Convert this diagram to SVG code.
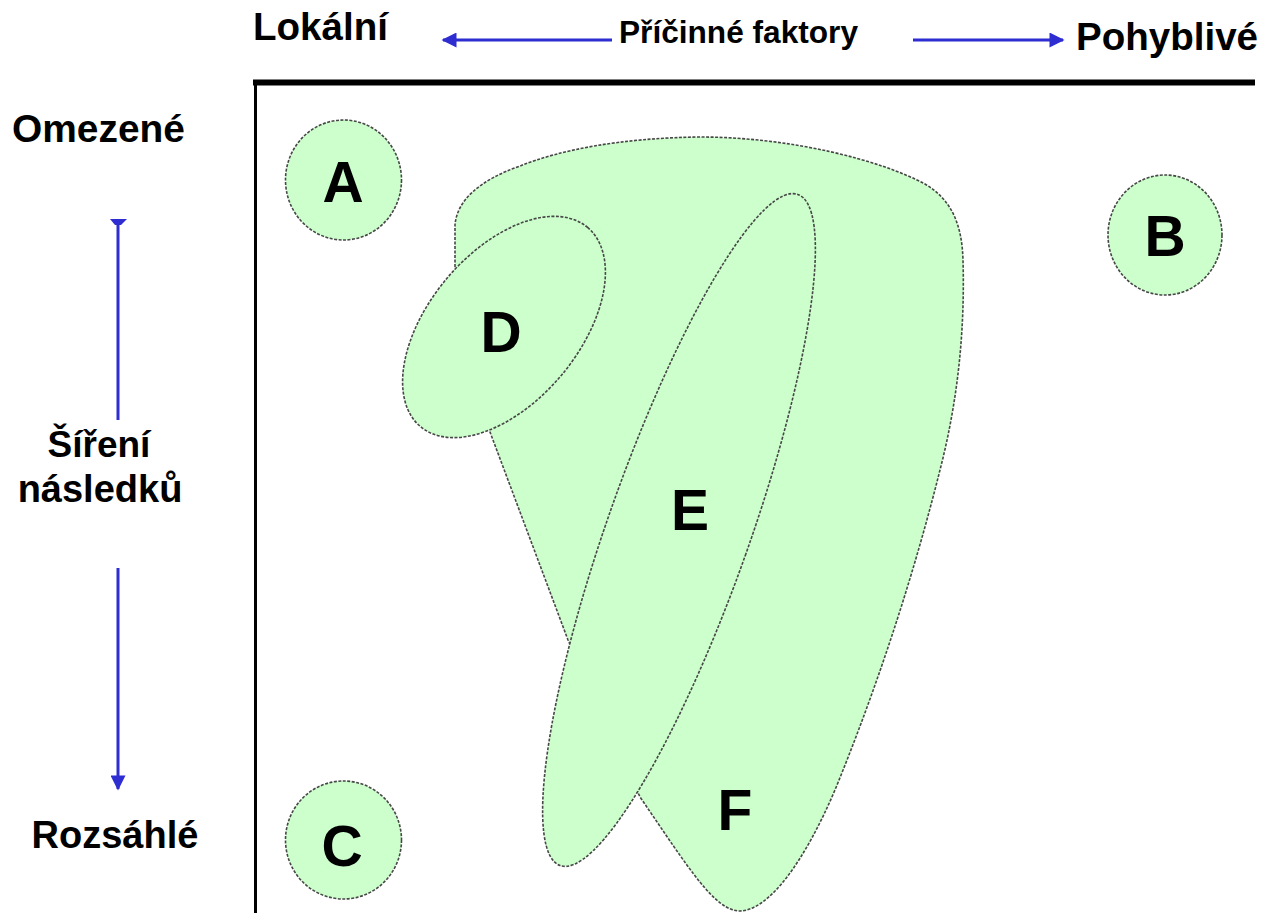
<svg xmlns="http://www.w3.org/2000/svg" width="1274" height="913" viewBox="0 0 1274 913">
  <defs>
    <style>
      .axis-label { font-family: "Liberation Sans", Arial, sans-serif; font-weight: bold; fill: #000; }
      .node-label { font-family: "Liberation Sans", Arial, sans-serif; font-weight: bold; font-size: 57px; fill: #000; text-anchor: middle; }
      .region { fill: #ccffcc; stroke: #474747; stroke-width: 1.6; stroke-dasharray: 3 1.5; }
      .frame { stroke: #000; fill: none; }
      .axis-arrow { stroke: #2d2dd2; stroke-width: 3; fill: none; }
    </style>
    <marker id="arrowhead" viewBox="0 0 10 10" refX="9" refY="5" markerWidth="8" markerHeight="5" markerUnits="strokeWidth" orient="auto">
      <path d="M0,0 L10,5 L0,10 Z" fill="#2d2dd2"/>
    </marker>
  </defs>

  <rect width="1274" height="913" fill="#ffffff"/>

  <!-- frame -->
  <g id="frame">
    <line class="frame" x1="253" y1="82.5" x2="1255" y2="82.5" stroke-width="6"/>
    <line class="frame" x1="255.5" y1="80" x2="255.5" y2="913" stroke-width="3"/>
  </g>

  <!-- axis titles -->
  <g id="axis-labels">
    <text class="axis-label" x="253" y="40" font-size="38" textLength="135" lengthAdjust="spacingAndGlyphs">Lokální</text>
    <text class="axis-label" x="619" y="43" font-size="32" textLength="239" lengthAdjust="spacingAndGlyphs">Příčinné faktory</text>
    <text class="axis-label" x="1076" y="50" font-size="38.5" textLength="182" lengthAdjust="spacingAndGlyphs">Pohyblivé</text>
    <text class="axis-label" x="12" y="142" font-size="38" textLength="173" lengthAdjust="spacingAndGlyphs">Omezené</text>
    <text class="axis-label" x="99" y="457" font-size="37" text-anchor="middle">Šíření</text>
    <text class="axis-label" x="100" y="502" font-size="38" text-anchor="middle">následků</text>
    <text class="axis-label" x="115" y="848" font-size="38" text-anchor="middle">Rozsáhlé</text>
  </g>

  <!-- connectors -->
  <g id="connectors">
    <line class="axis-arrow" x1="612" y1="40" x2="443" y2="40" marker-end="url(#arrowhead)"/>
    <line class="axis-arrow" x1="913" y1="40" x2="1063" y2="40" marker-end="url(#arrowhead)"/>
    <line class="axis-arrow" x1="118" y1="222" x2="118" y2="420"/>
    <polygon points="110,219 127,219 121,225 115,225" fill="#2d2dd2"/>
    <line class="axis-arrow" x1="118" y1="568" x2="118" y2="789" marker-end="url(#arrowhead)"/>
  </g>

  <!-- large region F (drawn first, underneath E and D) -->
  <g id="node-F">
    <path class="region" d="M455,267 L455,225 C457,200 480,180 520,166 C560,150 620,138 700,137 C790,137 880,160 925,184 C952,200 962,225 963,260 C965,330 958,400 940,470 C915,570 880,680 835,790 C805,860 770,910 740,911 C715,911 690,870 640,797 L568,640 L490,432 Z"/>
    <text class="node-label" x="735" y="830">F</text>
  </g>

  <g id="node-E">
    <ellipse class="region" cx="679" cy="530" rx="71" ry="356" transform="rotate(19.5 679 530)"/>
    <text class="node-label" x="690" y="530">E</text>
  </g>

  <g id="node-D">
    <ellipse class="region" cx="504" cy="327" rx="130" ry="75" transform="rotate(-50 504 327)"/>
    <text class="node-label" x="501" y="352">D</text>
  </g>

  <g id="node-A">
    <ellipse class="region" cx="343.5" cy="180" rx="58" ry="60"/>
    <text class="node-label" x="343" y="202">A</text>
  </g>

  <g id="node-B">
    <ellipse class="region" cx="1165" cy="235" rx="57" ry="60"/>
    <text class="node-label" x="1165" y="256">B</text>
  </g>

  <g id="node-C">
    <ellipse class="region" cx="343.5" cy="840" rx="58" ry="59"/>
    <text class="node-label" x="342" y="866">C</text>
  </g>
</svg>
